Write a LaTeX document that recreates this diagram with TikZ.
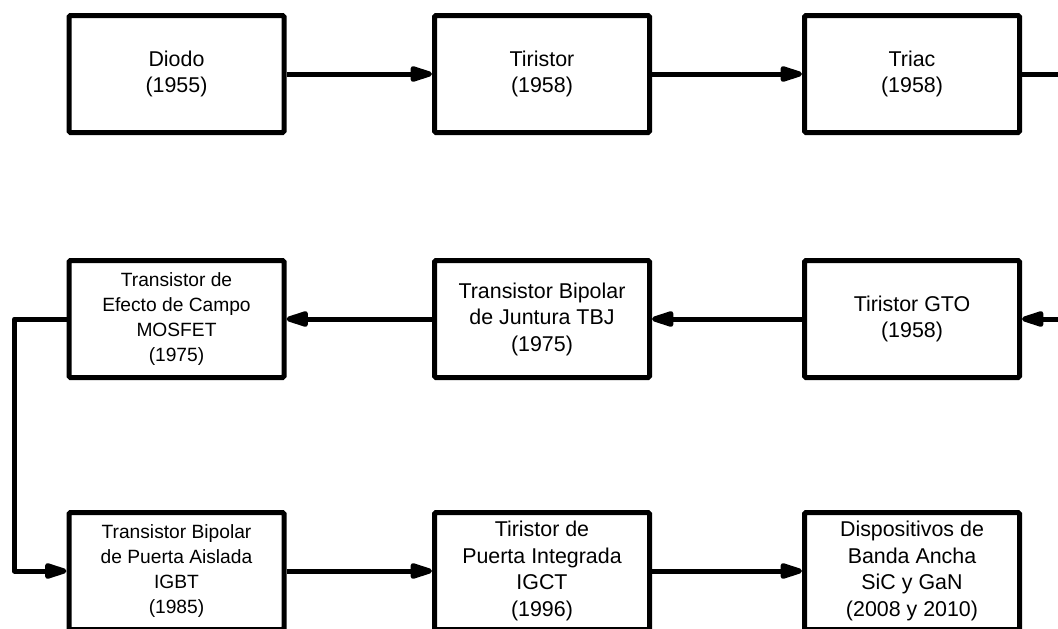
\documentclass[tikz,border=0pt]{standalone}
\usepackage{fontspec}
\setmainfont{Liberation Sans}
\usetikzlibrary{arrows.meta}
\tikzset{
  blk/.style={draw=black, line width=5pt, rounded corners=1.5pt, fill=white,
    minimum width=215pt, minimum height=117pt, align=center, inner sep=0pt},
  big/.style={font=\fontsize{21.4}{26.5}\selectfont,
    execute at begin node={\rule{0pt}{23.5pt}}},
  small/.style={font=\fontsize{19.2}{25}\selectfont,
    execute at begin node={\rule{0pt}{21.5pt}}},
  conn/.style={line width=5pt, line join=round},
  arr/.style={conn, -{Triangle[length=28pt,width=16pt,round]}}
}
\begin{document}
\begin{tikzpicture}[x=1pt,y=-1pt]
\useasboundingbox (0,0) rectangle (1058,629);
\clip (0,0) rectangle (1058,629);
\node[blk,big] (diodo) at (176.5,74) {Diodo\\(1955)};
\node[blk,big] (tiristor) at (542,74) {Tiristor\\(1958)};
\node[blk,big] (triac) at (912,74) {Triac\\(1958)};
\node[blk,small] (mosfet) at (176.5,319) {Transistor de\\Efecto de Campo\\MOSFET\\(1975)};
\node[blk,big] (tbj) at (542,319) {Transistor Bipolar\\de Juntura TBJ\\(1975)};
\node[blk,big] (gto) at (912,319) {Tiristor GTO\\(1958)};
\node[blk,small] (igbt) at (176.5,571) {Transistor Bipolar\\de Puerta Aislada\\IGBT\\(1985)};
\node[blk,big] (igct) at (542,571) {Tiristor de\\Puerta Integrada\\IGCT\\(1996)};
\node[blk,big] (wbg) at (912,571) {Dispositivos de\\Banda Ancha\\SiC y GaN\\(2008 y 2010)};
\coordinate (rt) at (1080,74);
\coordinate (lt) at (14.5,319);
\draw[arr] (diodo.east) -- (tiristor.west);
\draw[arr] (tiristor.east) -- (triac.west);
\draw[arr] (triac.east) -- (rt) |- (gto.east);
\draw[arr] (gto.west) -- (tbj.east);
\draw[arr] (tbj.west) -- (mosfet.east);
\draw[arr] (mosfet.west) -| (lt) |- (igbt.west);
\draw[arr] (igbt.east) -- (igct.west);
\draw[arr] (igct.east) -- (wbg.west);
\end{tikzpicture}
\end{document}
